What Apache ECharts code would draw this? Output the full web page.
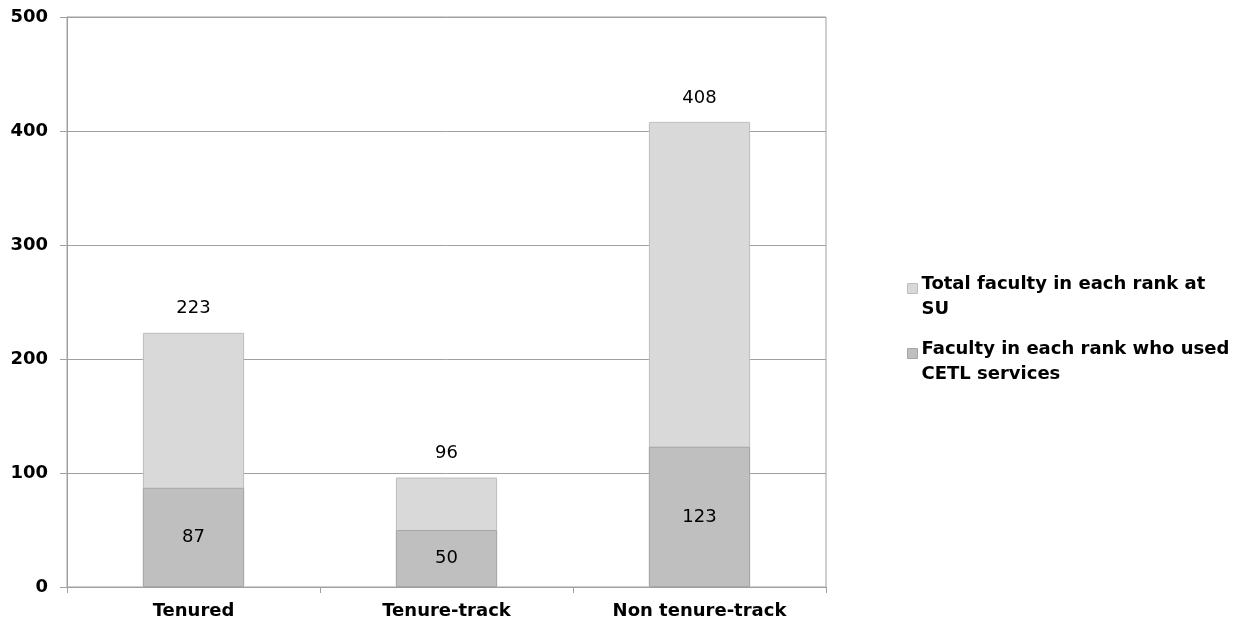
<!DOCTYPE html>
<html><head><meta charset="utf-8">
<script src="https://cdn.jsdelivr.net/npm/echarts@6/dist/echarts.min.js"></script>
<style>html,body{margin:0;padding:0;background:#fff}#c{width:1238px;height:625px}</style>
</head><body><div id="c"></div>
<script>
const categories = ['Tenured', 'Tenure-track', 'Non tenure-track'];
const totalFaculty = [223, 96, 408];
const usedCETL = [87, 50, 123];
const yTicks = [0, 100, 200, 300, 400, 500];
const seriesNames = ['Total faculty in each rank at SU', 'Faculty in each rank who used CETL services'];
const legendLines = {
  'Total faculty in each rank at SU': ['Total faculty in each rank at', 'SU'],
  'Faculty in each rank who used CETL services': ['Faculty in each rank who used', 'CETL services']
};
const FONT = 'DejaVu Sans, Verdana, sans-serif';
const chart = echarts.init(document.getElementById('c'));
chart.setOption({
  animation: false,
  backgroundColor: '#fff',
  grid: { left: 67, top: 17, width: 759, height: 570, show: true, borderColor: '#a0a0a0', borderWidth: 1 },
  legend: {
    orient: 'vertical', left: 907, top: 255, padding: 0, itemWidth: 10, itemHeight: 10, itemGap: -2,
    icon: 'rect',
    itemStyle: { borderWidth: 1 },
    formatter: n => '{e| }\n' + legendLines[n].map(l => '{b|' + l + '}').join('\n'),
    textStyle: {
      fontFamily: FONT, fontSize: 18, fontWeight: 'bold', color: '#000',
      rich: {
        e: { fontFamily: FONT, fontSize: 10, lineHeight: 17, height: 17 },
        b: { fontFamily: FONT, fontSize: 18, fontWeight: 'bold', color: '#000', lineHeight: 25, height: 25, padding: [0, 0, 0, -1] }
      }
    }
  },
  xAxis: {
    type: 'category', data: categories,
    axisLine: { lineStyle: { color: '#a0a0a0' } },
    axisTick: { show: true, length: 6, lineStyle: { color: '#a0a0a0' } },
    axisLabel: { fontFamily: FONT, fontSize: 18, fontWeight: 'bold', color: '#000', margin: 15 }
  },
  yAxis: {
    type: 'value', min: yTicks[0], max: yTicks[yTicks.length - 1], interval: 100,
    axisLine: { show: true, lineStyle: { color: '#a0a0a0' } },
    axisTick: { show: true, length: 7, lineStyle: { color: '#a0a0a0' } },
    splitLine: { lineStyle: { color: '#a0a0a0' } },
    axisLabel: { fontFamily: FONT, fontSize: 18, fontWeight: 'bold', color: '#000', margin: 19 }
  },
  series: [
    {
      name: seriesNames[0], type: 'bar', data: totalFaculty, barWidth: '40%', barGap: '-100%',
      itemStyle: { color: '#d9d9d9', borderColor: '#bdbdbd', borderWidth: 1 },
      label: { show: true, position: 'top', distance: 15, fontFamily: FONT, fontSize: 18, color: '#000' }
    },
    {
      name: seriesNames[1], type: 'bar', data: usedCETL, barWidth: '40%', barGap: '-100%',
      itemStyle: { color: '#bfbfbf', borderColor: '#a6a6a6', borderWidth: 1 },
      label: { show: true, position: 'inside', fontFamily: FONT, fontSize: 18, color: '#000' }
    }
  ]
});
</script></body></html>
